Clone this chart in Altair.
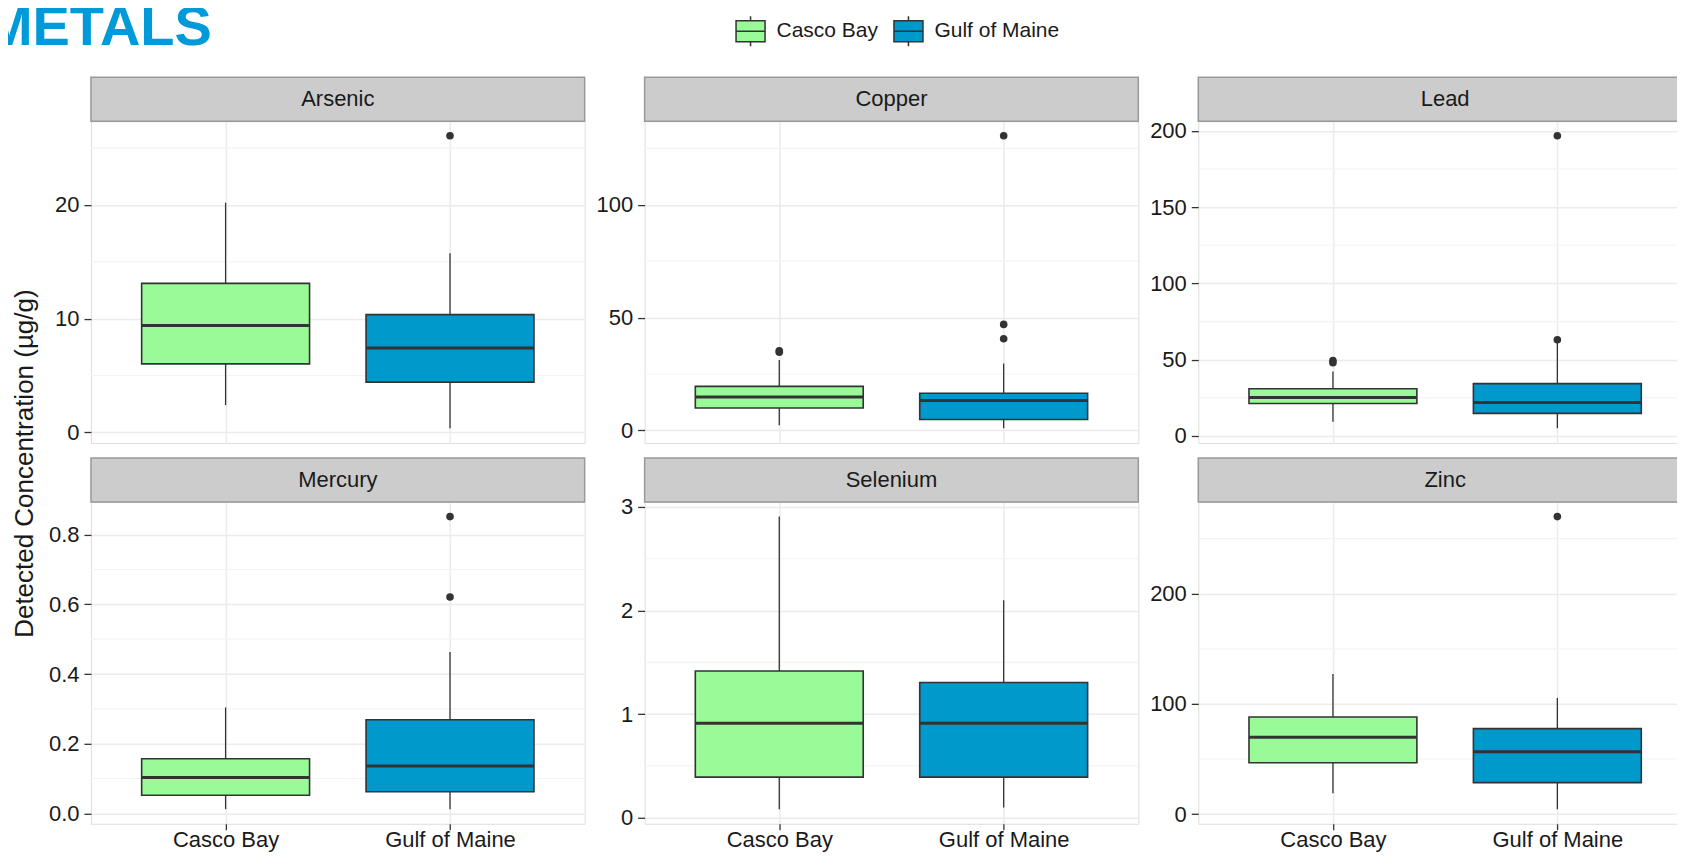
import altair as alt
import pandas as pd

# ---------------- data ----------------
metals = ["Arsenic", "Copper", "Lead", "Mercury", "Selenium", "Zinc"]
sites = ["Casco Bay", "Gulf of Maine"]

# box statistics, ordered metal by metal, Casco Bay then Gulf of Maine
box_metal = ["Arsenic", "Arsenic", "Copper", "Copper", "Lead", "Lead",
             "Mercury", "Mercury", "Selenium", "Selenium", "Zinc", "Zinc"]
box_site = ["Casco Bay", "Gulf of Maine"] * 6
whisker_lo = [2.4, 0.35, 2.3, 0.9, 9.3, 5.0, 0.012, 0.012, 0.083, 0.099, 18.9, 4.5]
q1 = [6.02, 4.42, 9.96, 4.8, 21.3, 14.8, 0.052, 0.062, 0.392, 0.392, 46.6, 28.6]
median = [9.39, 7.41, 14.8, 13.3, 25.2, 21.9, 0.1025, 0.136, 0.911, 0.911, 69.8, 56.5]
q3 = [13.1, 10.35, 19.5, 16.5, 31.0, 34.3, 0.1565, 0.2685, 1.417, 1.306, 88.1, 77.6]
whisker_hi = [20.2, 15.76, 31.2, 29.7, 42.3, 62.5, 0.304, 0.463, 2.907, 2.10, 127.2, 105.3]

# outliers
out_metal = ["Arsenic", "Copper", "Copper", "Copper", "Copper", "Copper",
             "Lead", "Lead", "Lead", "Lead", "Mercury", "Mercury", "Zinc"]
out_site = ["Gulf of Maine", "Casco Bay", "Casco Bay", "Gulf of Maine", "Gulf of Maine", "Gulf of Maine",
            "Casco Bay", "Casco Bay", "Gulf of Maine", "Gulf of Maine", "Gulf of Maine", "Gulf of Maine",
            "Gulf of Maine"]
out_value = [26.08, 35.3, 34.7, 47.0, 40.6, 130.6,
             49.5, 48.0, 63.1, 196.7, 0.621, 0.852, 270.0]

# y tick labels per panel
y_ticks = {
    "Arsenic": [0, 10, 20],
    "Copper": [0, 50, 100],
    "Lead": [0, 50, 100, 150, 200],
    "Mercury": [0.0, 0.2, 0.4, 0.6, 0.8],
    "Selenium": [0, 1, 2, 3],
    "Zinc": [0, 100, 200],
}
y_format = {"Arsenic": "d", "Copper": "d", "Lead": "d",
            "Mercury": ".1f", "Selenium": "d", "Zinc": "d"}

# ---------------- styling ----------------
FONT = "Liberation Sans"
GREEN = "#98FB98"
BLUE = "#0099CC"
DARK = "#333333"
TXT = "#1A1A1A"
GRID = "#EBEBEB"
MINOR = "#F3F3F3"
BORDER = "#999999"
W, H = 494, 322
STRIP_H = 44
BOX_W = 168
FS = 22

box_df = pd.DataFrame({"metal": box_metal, "site": box_site, "lo": whisker_lo,
                       "q1": q1, "median": median, "q3": q3, "hi": whisker_hi})
out_df = pd.DataFrame({"metal": out_metal, "site": out_site, "value": out_value})

box_path = ("M-0.967,-0.7H0.967V0.7H-0.967Z M-0.967,0H0.967 "
            "M0,-1V-0.7 M0,0.7V1")

color = alt.Color(
    "site:N",
    scale=alt.Scale(domain=sites, range=[GREEN, BLUE]),
    legend=alt.Legend(
        title=None, orient="none", direction="horizontal",
        legendX=644, legendY=-106,
        symbolType=box_path, symbolSize=900,
        symbolStrokeColor=DARK, symbolStrokeWidth=1.5, symbolOpacity=1,
        labelFontSize=21, labelColor=TXT, labelFont=FONT,
        labelOffset=10, columnPadding=12, padding=0,
    ),
)


def panel(metal, bottom):
    b = box_df[box_df.metal == metal]
    o = out_df[out_df.metal == metal]
    allv = list(b["lo"]) + list(b["hi"]) + list(o["value"])
    lo, hi = min(allv), max(allv)
    pad = 0.05 * (hi - lo)
    dom = [lo - pad, hi + pad]
    ticks = y_ticks[metal]
    step = ticks[1] - ticks[0]
    minors = [t + step / 2 for t in [ticks[0] - step] + ticks
              if dom[0] <= t + step / 2 <= dom[1]]
    minor_df = pd.DataFrame({"v": minors})

    xax = alt.Axis(title=None, labels=bottom, ticks=bottom, domain=False,
                   grid=True, gridColor=GRID, gridWidth=1.5,
                   tickSize=6, tickColor=DARK, tickWidth=1.3,
                   labelFontSize=FS, labelColor=TXT, labelFont=FONT,
                   labelPadding=0, labelAngle=0)
    yax = alt.Axis(title=None, values=ticks, format=y_format[metal], domain=False,
                   grid=True, gridColor=GRID, gridWidth=1.5,
                   tickSize=7, tickColor=DARK, tickWidth=1.3,
                   labelFontSize=FS, labelColor=TXT, labelFont=FONT,
                   labelPadding=5)
    xs = alt.Scale(type="point", padding=0.6, domain=sites)
    ys = alt.Scale(domain=dom, nice=False, zero=False)

    X = alt.X("site:N", scale=xs, axis=xax)

    minor = alt.Chart(minor_df).mark_rule(color=MINOR, strokeWidth=1.2).encode(
        y=alt.Y("v:Q", scale=ys, axis=yax))
    whisk = alt.Chart(b).mark_rule(color=DARK, strokeWidth=1.3).encode(
        x=X, y=alt.Y("lo:Q", scale=ys, axis=yax), y2="hi:Q")
    boxes = alt.Chart(b).mark_bar(size=BOX_W, stroke=DARK, strokeWidth=1.6, opacity=1).encode(
        x=X, y=alt.Y("q1:Q", scale=ys, axis=yax), y2="q3:Q", color=color)
    med = alt.Chart(b).mark_tick(color=DARK, thickness=3, size=BOX_W, opacity=1).encode(
        x=X, y=alt.Y("median:Q", scale=ys, axis=yax))
    layers = [minor, whisk, boxes, med]
    if len(o):
        pts = alt.Chart(o).mark_circle(color=DARK, size=58, opacity=1).encode(
            x=X, y=alt.Y("value:Q", scale=ys, axis=yax))
        layers.append(pts)
    strip_df = pd.DataFrame({"metal": [metal]})
    strip = alt.Chart(strip_df).mark_rect(fill="#CCCCCC", stroke=BORDER, strokeWidth=1.5).encode(
        x=alt.value(0), x2=alt.value(W), y=alt.value(-STRIP_H), y2=alt.value(0))
    label = alt.Chart(strip_df).mark_text(fontSize=FS, color=TXT, font=FONT, baseline="middle").encode(
        text="metal:N", x=alt.value(W / 2), y=alt.value(-STRIP_H / 2))
    layers += [strip, label]
    return alt.layer(*layers).properties(width=W, height=H)


panels = [panel(m, i >= 3) for i, m in enumerate(metals)]

grid = alt.concat(
    *panels, columns=3, spacing={"row": 59, "column": 60}, bounds="flush",
).properties(
    title=alt.TitleParams("Detected Concentration (µg/g)", orient="left", anchor="middle",
                          fontSize=26, fontWeight="normal", color=TXT, font=FONT, offset=10)
)

chart = alt.vconcat(grid).properties(
    title=alt.TitleParams("METALS", anchor="start", fontSize=56, fontWeight="bold",
                          color="#009ADA", font=FONT, dx=-26, offset=-42),
    padding={"left": -23, "top": -8, "right": -17, "bottom": 0},
).configure_view(stroke=BORDER, strokeWidth=1.5).configure(font=FONT)

chart.save("out.html", embed_options={"renderer": "svg", "actions": False})
